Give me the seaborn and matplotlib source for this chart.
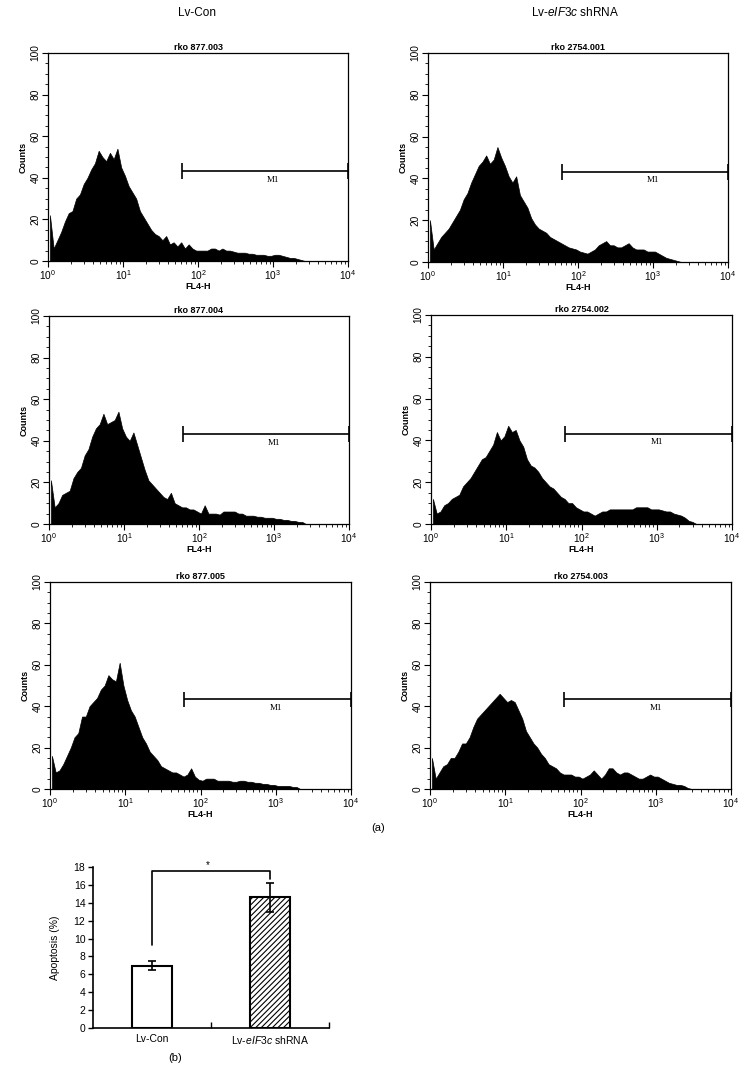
import numpy as np
import pandas as pd
import matplotlib
matplotlib.use("Agg")
import matplotlib.pyplot as plt
import seaborn as sns
from matplotlib.ticker import LogLocator, LogFormatterMathtext, MultipleLocator, NullFormatter, FixedLocator

# ---------------- data ----------------
bin_width_decade = 0.05          # histogram channel width (log10 units)
n_bins = 80                      # 10^0 .. 10^4

column_titles = ["Lv-Con", r"Lv-$\mathit{eIF3c}$ shRNA"]
panel_titles = ["rko 877.003", "rko 2754.001",
                "rko 877.004", "rko 2754.002",
                "rko 877.005", "rko 2754.003"]

counts_877_003 = [22, 6, 10, 14, 19, 23, 24, 30, 32, 37, 40, 44, 47, 53, 50, 48, 52, 49, 54, 45,
                  41, 36, 33, 30, 24, 21, 18, 15, 13, 12, 10, 12, 8, 9, 7, 9, 6, 8, 6, 5,
                  5, 5, 5, 6, 6, 5, 6, 5, 5, 4.5, 4, 4, 4, 3.5, 3.5, 3, 3, 3, 2.5, 2.5,
                  3, 3, 2.5, 2, 1.5, 1.5, 1, 0.5]
counts_2754_001 = [20, 6, 9, 12, 14, 16, 19, 22, 25, 30, 33, 38, 42, 46, 48, 51, 47, 49, 55, 50,
                   46, 41, 38, 41, 32, 29, 26, 21, 18, 16, 15, 14, 12, 11, 10, 9, 8, 7, 6.5, 6,
                   5, 4.5, 4, 5, 6, 8, 9, 10, 8, 8, 7, 7, 8, 9, 7, 6, 6, 6, 5, 5,
                   5, 4, 3, 2, 1.5, 1, 0.5]
counts_877_004 = [21, 8, 10, 14, 15, 16, 22, 25, 27, 33, 36, 42, 46, 48, 53, 48, 49, 50, 54, 46,
                  42, 40, 44, 38, 32, 26, 21, 19, 17, 15, 13, 12, 15, 10, 9, 8, 8, 7, 7, 6,
                  5, 9, 5, 5, 5, 4.5, 6, 6, 6, 6, 5, 5, 4, 4, 4, 3.5, 3.5, 3, 3, 3,
                  2.5, 2.5, 2, 2, 1.5, 1.5, 1, 1]
counts_2754_002 = [12, 5, 6, 9, 10, 12, 13, 14, 18, 20, 22, 25, 28, 31, 32, 35, 38, 44, 40, 42,
                   47, 44, 45, 40, 37, 31, 28, 27, 25, 22, 20, 18, 17, 15, 13, 12, 10, 10, 8, 7,
                   6, 6, 5, 4, 5, 6, 6, 7, 7, 7, 7, 7, 7, 7, 8, 8, 8, 8, 7, 7,
                   7, 6.5, 6, 6, 5, 4.5, 4, 3, 1.5, 1]
counts_877_005 = [16, 8, 9, 12, 16, 20, 25, 27, 35, 35, 40, 42, 44, 48, 50, 55, 53, 52, 61, 50,
                  43, 38, 35, 30, 25, 22, 18, 16, 14, 11, 10, 9, 8, 8, 7, 6, 7, 10, 6, 4.5,
                  4, 5, 5, 5, 4, 4, 4, 4, 3.5, 3.5, 4, 4, 3.5, 3.5, 3, 3, 2.5, 2.5, 2, 2,
                  1.5, 1.5, 1.5, 1.5, 1, 1]
counts_2754_003 = [15, 5, 8, 11, 12, 15, 15, 18, 22, 22, 25, 30, 34, 36, 38, 40, 42, 44, 46, 44,
                   42, 43, 42, 38, 34, 28, 25, 22, 20, 17, 15, 12, 11, 10, 8, 7, 7, 7, 6, 6,
                   5, 6, 7, 9, 7, 5, 7, 10, 10, 8, 7, 8, 8, 7, 6, 5, 5, 6, 7, 6,
                   6, 5, 4, 3, 2.5, 2, 2, 1.5, 0.5]

panel_counts = [counts_877_003, counts_2754_001, counts_877_004,
                counts_2754_002, counts_877_005, counts_2754_003]

gate_name = "M1"
gate_low = 61.0
gate_high = 10000.0
gate_level = 43.3
gate_cap = (39.4, 47.0)

groups = ["Lv-Con", r"Lv-$\mathit{eIF3c}$ shRNA"]
apoptosis_mean = [6.95, 14.6]
apoptosis_err = [0.5, 1.65]
bracket_y = [9.25, 17.55, 17.55, 16.7]
sig_label = "*"

# ---------------- style ----------------
sns.set_style("ticks")
plt.rcParams["font.family"] = ["Liberation Sans", "DejaVu Sans"]
plt.rcParams["mathtext.fontset"] = "custom"
plt.rcParams["mathtext.rm"] = "Liberation Sans"
plt.rcParams["mathtext.it"] = "Liberation Sans:italic"
plt.rcParams["mathtext.bf"] = "Liberation Sans:bold"
plt.rcParams["axes.edgecolor"] = "black"
plt.rcParams["text.color"] = "black"
plt.rcParams["axes.labelcolor"] = "black"
plt.rcParams["xtick.color"] = "black"
plt.rcParams["ytick.color"] = "black"
plt.rcParams["hatch.color"] = "black"
plt.rcParams["hatch.linewidth"] = 0.8

W, H = 756, 1072
fig = plt.figure(figsize=(W / 100, H / 100), dpi=100)

def fbox(x0, y0, x1, y1):
    return [x0 / W, 1 - y1 / H, (x1 - x0) / W, (y1 - y0) / H]

panel_boxes = [
    fbox(48, 53, 348, 261), fbox(428, 53, 728, 262),
    fbox(49, 316, 349, 524), fbox(431, 315, 732, 524),
    fbox(50, 582, 351, 789), fbox(430, 582, 731, 789),
]

edges = np.arange(n_bins + 1) * bin_width_decade
centers = (edges[:-1] + edges[1:]) / 2

for box, title, vals in zip(panel_boxes, panel_titles, panel_counts):
    ax = fig.add_axes(box)
    v = list(vals) + [0] * (n_bins - len(vals))
    df = pd.DataFrame({"FL4-H": 10 ** centers, "Counts": v})
    sns.histplot(data=df, x="FL4-H", weights="Counts", log_scale=True,
                 binwidth=bin_width_decade, binrange=(0, 4),
                 element="poly", fill=True, color="black", alpha=1,
                 linewidth=0.5, ax=ax)
    ax.set_xlim(1, 1e4)
    ax.set_ylim(0, 100)
    ax.xaxis.set_major_locator(LogLocator(base=10, numticks=10))
    ax.xaxis.set_minor_locator(LogLocator(base=10, subs=np.arange(2, 10), numticks=50))
    ax.xaxis.set_major_formatter(LogFormatterMathtext())
    ax.xaxis.set_minor_formatter(NullFormatter())
    ax.yaxis.set_major_locator(MultipleLocator(20))
    ax.yaxis.set_minor_locator(MultipleLocator(5))
    ax.tick_params(which="major", direction="out", length=4, width=0.8, labelsize=7.3, pad=1.5)
    ax.tick_params(which="minor", direction="out", length=2.2, width=0.6)
    ax.tick_params(axis="y", labelrotation=90)
    for lab in ax.get_yticklabels():
        lab.set_va("center")
    for s in ax.spines.values():
        s.set_linewidth(0.9)
        s.set_visible(True)
    ax.set_xlabel("FL4-H", fontsize=6.5, fontweight="bold", labelpad=0)
    ax.set_ylabel("Counts", fontsize=6.5, fontweight="bold", labelpad=2)
    ax.set_title(title, fontsize=6.5, fontweight="bold", pad=2.5)
    # gate marker
    ax.hlines(gate_level, gate_low, gate_high, color="black", lw=1.2, clip_on=False)
    ax.vlines([gate_low, gate_high], gate_cap[0], gate_cap[1], color="black", lw=1.2, clip_on=False)
    ax.text(10 ** 3.0, 39, gate_name, ha="center", va="center", fontsize=6.5,
            family=["Liberation Serif", "DejaVu Serif"])

fig.text(197 / W, 1 - 13 / H, column_titles[0], ha="center", va="center", fontsize=8.5)
fig.text(575 / W, 1 - 13 / H, column_titles[1], ha="center", va="center", fontsize=8.5)
fig.text(378 / W, 1 - 828 / H, "(a)", ha="center", va="center", fontsize=8)

# ---------------- bar chart ----------------
axb = fig.add_axes(fbox(93, 867, 329, 1028))
bdf = pd.DataFrame({"group": groups, "apoptosis": apoptosis_mean})
sns.barplot(data=bdf, x="group", y="apoptosis", color="white", saturation=1,
            edgecolor="black", linewidth=1.5, width=0.34, errorbar=None, ax=axb)
axb.patches[1].set_hatch("//////")
axb.errorbar([0, 1], apoptosis_mean, yerr=apoptosis_err, fmt="none", ecolor="black",
             elinewidth=1.2, capsize=3.2, capthick=1.2)
axb.plot([0, 0, 1, 1], bracket_y, color="black", lw=1.2, clip_on=False)
axb.text(0.47, bracket_y[1] + 0.1, sig_label, ha="center", va="bottom", fontsize=7)
axb.set_xlim(-0.5, 1.5)
axb.set_ylim(0, 18)
axb.yaxis.set_major_locator(MultipleLocator(2))
axb.set_xticks([0, 1], groups)
axb.xaxis.set_minor_locator(FixedLocator([0.5, 1.5]))
axb.tick_params(axis="x", which="major", length=0, labelsize=7.5, pad=4)
axb.tick_params(axis="x", which="minor", direction="in", length=4, width=1.0)
axb.tick_params(axis="y", direction="out", length=3.5, width=1.0, labelsize=7.5, pad=2)
axb.set_xlabel("")
axb.set_ylabel("Apoptosis (%)", fontsize=7.5, labelpad=10)
sns.despine(ax=axb)
for s in ("left", "bottom"):
    axb.spines[s].set_linewidth(1.2)
fig.text(175 / W, 1 - 1058 / H, "(b)", ha="center", va="center", fontsize=8)

fig.savefig("out.png", dpi=100)
